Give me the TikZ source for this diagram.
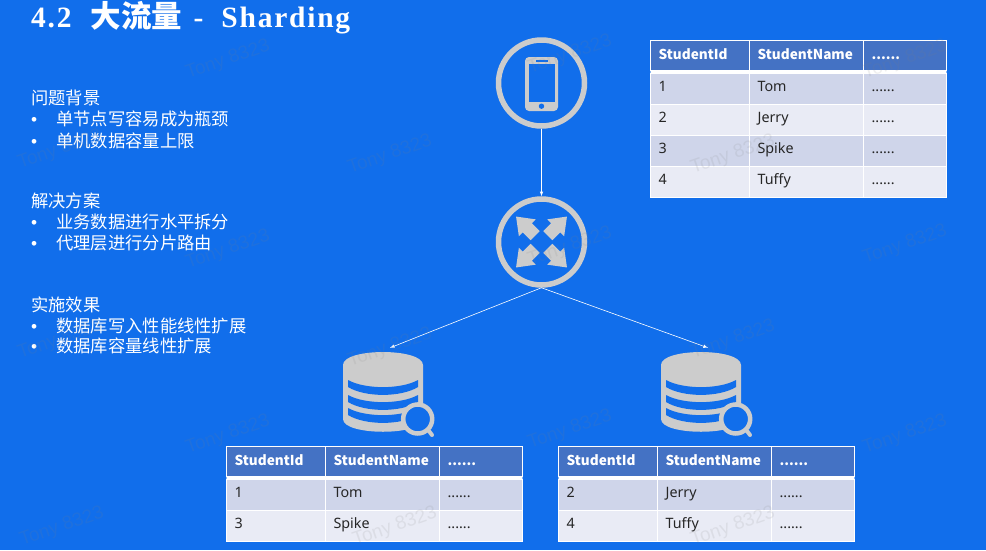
\documentclass[tikz,border=0pt]{standalone}
\usepackage{fontspec}
\usepackage{xcolor}
\usetikzlibrary{matrix}
\setmainfont{Noto Sans CJK SC}
\newfontfamily\tablefont{Noto Sans}
\newfontfamily\titlefont[LetterSpace=6]{Liberation Serif}
\newfontfamily\markfont{Liberation Sans}
\definecolor{slidebg}{HTML}{116EEB}
\definecolor{icongray}{HTML}{CCCCCC}
\definecolor{headblue}{HTML}{4472C4}
\definecolor{rowdark}{HTML}{CFD5EA}
\definecolor{rowlight}{HTML}{E9EBF5}
\definecolor{tableline}{HTML}{8DB8F2}
\newcommand{\bulletitem}[1]{\makebox[25pt][l]{\markfont •}#1}
\tikzset{
  textline/.style={anchor=west, inner sep=0pt, text=white, font=\fontsize{17.3}{20}\selectfont},
  ring/.style={circle, draw=icongray, line width=5.5pt, minimum size=86pt, inner sep=0pt},
  dbspot/.style={minimum width=94pt, minimum height=90pt, inner sep=0pt},
  link/.style={-latex, white, line width=0.6pt},
  watermark/.style={gray, opacity=0.13, rotate=19, inner sep=0pt, font=\markfont\fontsize{19}{20}\selectfont},
  studenttable/.style={matrix of nodes, anchor=north west, fill=white, draw=tableline, line width=0.7pt, inner sep=0pt,
    nodes in empty cells, row sep=0pt, column sep=0pt,
    nodes={draw=white, line width=0.5pt, anchor=center, align=left, inner xsep=8pt, inner ysep=0pt,
      minimum height=30.5pt, text height=10.5pt, text depth=6pt, text=black!85, font=\tablefont\fontsize{14.3}{16}\selectfont},
    column 1/.style={nodes={text width=82.5pt}},
    column 2/.style={nodes={text width=97.5pt}},
    column 3/.style={nodes={text width=66.5pt}},
    row 1/.style={nodes={fill=headblue, text=white, minimum height=29.5pt, text depth=3pt, font=\bfseries\fontsize{13.6}{16}\selectfont}},
    row 2/.style={nodes={fill=rowdark}},
    row 3/.style={nodes={fill=rowlight}},
    row 4/.style={nodes={fill=rowdark}},
    row 5/.style={nodes={fill=rowlight}}},
  phoneicon/.pic={
    \fill[icongray, rounded corners=4pt] (-16.5,-26) rectangle (16.5,28);
    \fill[slidebg] (-12.5,-19) rectangle (13.5,19);
    \fill[slidebg] (-6,-22.7) rectangle (6,-21.3);
    \fill[slidebg] (0,23.2) circle (2.7);
  },
  hubicon/.pic={
    \foreach \a in {45,135,225,315}
      \fill[icongray, rotate=\a] (9,-6.5) -- (20,-6.5) -- (20,-12) -- (36,0) -- (20,12) -- (20,6.5) -- (9,6.5) -- cycle;
  },
  dbicon/.pic={
    \fill[icongray] (-47,-28) .. controls (-47,-45.3) and (33,-45.3) .. (33,-28) -- (33,26)
      .. controls (33,43) and (-47,43) .. (-47,26) -- cycle;
    \foreach \y in {-13,2,15}
      \fill[slidebg] (-42,\y) .. controls (-25,\y+9.5) and (11,\y+9.5) .. (28,\y) -- (28,\y+7)
        .. controls (11,\y+17.5) and (-25,\y+17.5) .. (-42,\y+7) -- cycle;
    \draw[icongray, line width=4.5pt, fill=slidebg] (27.7,26) circle (14.5);
    \draw[icongray, line width=4pt, line cap=round] (39,38) -- (42,42);
  }
}
\begin{document}
\begin{tikzpicture}[x=1pt, y=-1pt]
  \useasboundingbox[fill=slidebg] (0,0) rectangle (986,550);

  % title
  \node[textline, font=\bfseries\fontsize{30.5}{32}\selectfont] (title) at (31,18)
    {{\titlefont\fontsize{29.5}{30}\selectfont 4.2}\hspace{19pt}大流量\hspace{11.5pt}{\titlefont\fontsize{29.5}{30}\selectfont -}\hspace{18pt}{\titlefont\fontsize{29.5}{30}\selectfont Sharding}};

  % left column
  \node[textline] (bgtitle) at (31,98) {问题背景};
  \node[textline] (bgone) at (31,119) {\bulletitem{单节点写容易成为瓶颈}};
  \node[textline] (bgtwo) at (31,141) {\bulletitem{单机数据容量上限}};
  \node[textline] (plantitle) at (31,201) {解决方案};
  \node[textline] (planone) at (31,222) {\bulletitem{业务数据进行水平拆分}};
  \node[textline] (plantwo) at (31,243) {\bulletitem{代理层进行分片路由}};
  \node[textline] (effecttitle) at (31,305) {实施效果};
  \node[textline] (effectone) at (31,326) {\bulletitem{数据库写入性能线性扩展}};
  \node[textline] (effecttwo) at (31,346) {\bulletitem{数据库容量线性扩展}};

  % icons
  \node[ring] (phone) at (541.5,83) {};
  \node[ring] (hub) at (541.5,242) {};
  \node[dbspot] (dbleft) at (390,393) {};
  \node[dbspot] (dbright) at (708,393) {};
  \pic at (phone.center) {phoneicon};
  \pic at (hub.center) {hubicon};
  \pic at (dbleft.center) {dbicon};
  \pic at (dbright.center) {dbicon};

  \draw[link] (phone) -- (hub);
  \draw[link] (hub.south) -- (dbleft.north);
  \draw[link] (hub.south) -- (dbright.north);

  % tables
  \matrix[studenttable] (alltable) at (650,40) {
    StudentId & StudentName & ...... \\[3pt]
    1 & Tom & ...... \\
    2 & Jerry & ...... \\
    3 & Spike & ...... \\
    4 & Tuffy & ...... \\
  };
  \matrix[studenttable] (lefttable) at (226,446) {
    StudentId & StudentName & ...... \\[3pt]
    1 & Tom & ...... \\
    3 & Spike & ...... \\
  };
  \matrix[studenttable] (righttable) at (558,446) {
    StudentId & StudentName & ...... \\[3pt]
    2 & Jerry & ...... \\
    4 & Tuffy & ...... \\
  };

  % watermark
  \foreach \x/\y [count=\i] in {228/60,570/55,905/60,60/150,390/155,733/155,228/250,570/247,905/245,
    60/340,390/348,733/340,228/435,570/430,905/435,62/527,395/527,733/527}
    \node[watermark] (mark\i) at (\x,\y) {Tony 8323};
\end{tikzpicture}
\end{document}
